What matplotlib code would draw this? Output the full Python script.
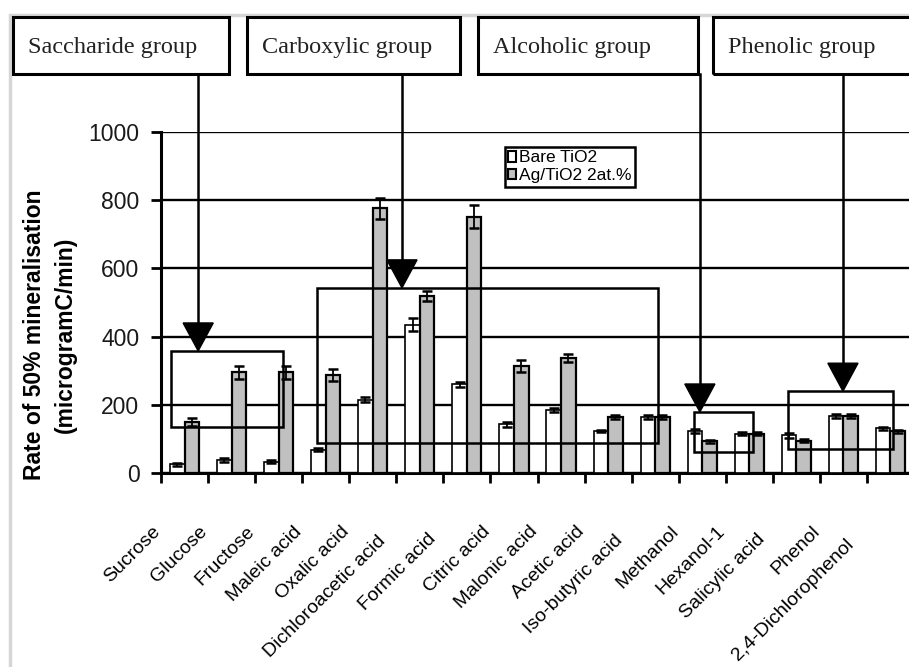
import numpy as np
import matplotlib
matplotlib.use("Agg")
import matplotlib.pyplot as plt
from matplotlib import transforms
from matplotlib.patches import Rectangle, Polygon, Patch

compounds = ["Sucrose", "Glucose", "Fructose", "Maleic acid", "Oxalic acid",
             "Dichloroacetic acid", "Formic acid", "Citric acid", "Malonic acid",
             "Acetic acid", "Iso-butyric acid", "Methanol", "Hexanol-1",
             "Salicylic acid", "Phenol", "2,4-Dichlorophenol"]
bare_tio2 = [25, 38, 33, 68, 215, 435, 260, 143, 185, 123, 164, 123, 115, 110, 167, 131]
bare_err = [4, 6, 4, 4, 8, 20, 7, 8, 6, 4, 5, 6, 5, 8, 5, 5]
ag_tio2 = [150, 295, 295, 287, 776, 518, 752, 314, 338, 163, 164, 93, 115, 95, 167, 122]
ag_err = [12, 18, 18, 18, 30, 15, 33, 17, 12, 6, 6, 5, 5, 5, 5, 5]
groups = ["Saccharide group", "Carboxylic group", "Alcoholic group", "Phenolic group"]

W, H = 909, 667
fig = plt.figure(figsize=(W / 100, H / 100), dpi=100)


def fx(px):
    return px / W


def fy(py):
    return 1 - py / H


sans = "Liberation Sans"
serif = "Liberation Serif"

# light grey frame of the scanned figure
fig.add_artist(Rectangle((fx(10), fy(700)), fx(960), 685 / H, transform=fig.transFigure,
                         fill=False, edgecolor="#d6d6d6", linewidth=2.5))

ax = fig.add_axes([fx(161), fy(473), (914 - 161) / W, (473 - 132) / H])
x = np.arange(len(compounds))
bw = 0.31
ekw = dict(ecolor="black", elinewidth=1.3, capsize=3.5, capthick=1.8)
ax.bar(x - bw / 2, bare_tio2, bw, color="white", edgecolor="black", linewidth=1.2,
       yerr=bare_err, error_kw=ekw, zorder=3)
ax.bar(x + bw / 2, ag_tio2, bw, color="#c0c0c0", edgecolor="black", linewidth=1.6,
       yerr=ag_err, error_kw=ekw, zorder=3)

ax.set_xlim(-0.5, len(compounds) - 0.5)
ax.set_ylim(0, 1000)
ax.set_yticks(range(0, 1001, 200))
ax.set_xticks(x - 0.5)
ax.set_xticklabels([])
ax.tick_params(axis="both", direction="out", length=7.5, width=2, color="black")
ax.tick_params(axis="y", pad=8, labelsize=16.5, labelcolor="#1a1a1a")
for lab in ax.get_yticklabels():
    lab.set_family(sans)
ax.grid(axis="y", color="black", linewidth=1.7, zorder=0)
ax.set_axisbelow(True)
for side in ["top", "right"]:
    ax.spines[side].set_visible(False)
for side in ["left", "bottom"]:
    ax.spines[side].set_linewidth(2.2)

# rotated category labels, ending near the left tick of each category
shift = {5: 14, 6: 10, 10: 12, 13: 11, 15: 18}
for i, name in enumerate(compounds):
    s = shift.get(i, 0) / np.sqrt(2)
    tr = transforms.offset_copy(ax.transData, fig=fig, x=-9 - s, y=-50 - s, units="dots")
    ax.text(i - 0.5, 0, name, transform=tr, rotation=45, ha="right", va="top",
            rotation_mode="anchor", fontsize=14, family=sans, clip_on=False)

fig.text(fx(50), fy(335), "Rate of 50% mineralisation\n(microgramC/min)", rotation=90,
         ha="center", va="center", fontsize=16.5, fontweight="bold", family=sans,
         linespacing=1.4, multialignment="center")

leg = ax.legend([Patch(facecolor="white", edgecolor="black", linewidth=1.5),
                 Patch(facecolor="#c0c0c0", edgecolor="black", linewidth=1.5)],
                ["Bare TiO2", "Ag/TiO2 2at.%"], loc="upper left",
                bbox_to_anchor=(fx(505), fy(147)), bbox_transform=fig.transFigure,
                fancybox=False, framealpha=1, edgecolor="black", borderaxespad=0,
                handlelength=0.45, handleheight=0.55, handletextpad=0.15, borderpad=0.2,
                labelspacing=0.15, prop=dict(family=sans, size=12.5))
leg.get_frame().set_linewidth(1.8)

# group boxes at the top, arrows pointing to brackets around the bars
box_px = [(13, 229), (247, 460), (478, 698), (713, 930)]
box_top, box_bot = 17, 74
brackets = [(-0.29, 2.09, 135, 358, 0.29),
            (2.81, 10.06, 88, 543, 4.62),
            (10.82, 12.08, 62, 179, 10.95),
            (12.82, 15.05, 70, 240, 13.99)]
y_box = ax.transData.inverted().transform(fig.transFigure.transform((0, fy(box_bot))))[1]
tri_h, tri_w = 82, 0.32
for name, (l, r), (bx0, bx1, by0, by1, axx) in zip(groups, box_px, brackets):
    fig.add_artist(Rectangle((fx(l), fy(box_bot)), fx(r - l), (box_bot - box_top) / H,
                             transform=fig.transFigure, fill=False, edgecolor="black",
                             linewidth=2.2))
    fig.text(fx(l + 15), fy(48), name, ha="left", va="center", fontsize=17.5,
             family=serif, color="#222222")
    ax.add_patch(Rectangle((bx0, by0), bx1 - bx0, by1 - by0, fill=False,
                           edgecolor="black", linewidth=1.8, zorder=5, clip_on=False))
    ax.plot([axx, axx], [y_box, by1 + tri_h], color="black", linewidth=1.8,
            zorder=5, clip_on=False)
    ax.add_patch(Polygon([(axx - tri_w, by1 + tri_h), (axx + tri_w, by1 + tri_h), (axx, by1)],
                         closed=True, facecolor="black", edgecolor="black", zorder=6,
                         clip_on=False))

fig.savefig("out.png", dpi=100)
